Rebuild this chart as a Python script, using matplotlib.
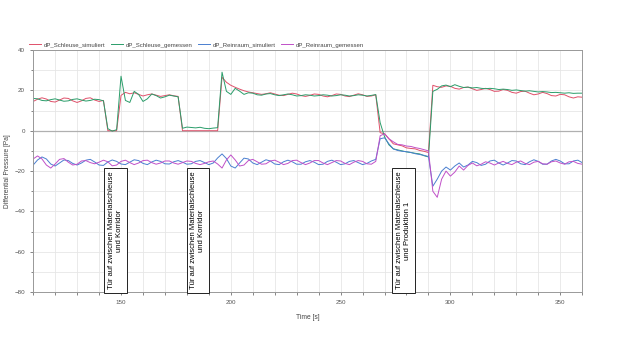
import numpy as np
import matplotlib
matplotlib.use("Agg")
import matplotlib.pyplot as plt
from matplotlib.ticker import MultipleLocator

plt.rcParams["font.family"] = ["Liberation Sans", "DejaVu Sans"]

# sample times [s], 2 s step
time_s = [
    110, 112, 114, 116, 118, 120, 122, 124, 126, 128,
    130, 132, 134, 136, 138, 140, 142, 144, 146, 148,
    150, 152, 154, 156, 158, 160, 162, 164, 166, 168,
    170, 172, 174, 176, 178, 180, 182, 184, 186, 188,
    190, 192, 194, 196, 198, 200, 202, 204, 206, 208,
    210, 212, 214, 216, 218, 220, 222, 224, 226, 228,
    230, 232, 234, 236, 238, 240, 242, 244, 246, 248,
    250, 252, 254, 256, 258, 260, 262, 264, 266, 268,
    270, 272, 274, 276, 278, 280, 282, 284, 286, 288,
    290, 292, 294, 296, 298, 300, 302, 304, 306, 308,
    310, 312, 314, 316, 318, 320, 322, 324, 326, 328,
    330, 332, 334, 336, 338, 340, 342, 344, 346, 348,
    350, 352, 354, 356, 358, 360,
]

schleuse_sim = [
    14.5, 15.6, 16.3, 15.7, 14.5, 14.2, 15.2, 16.2, 16.0, 14.8,
    14.0, 14.8, 16.0, 16.3, 15.2, 14.5, 15.0, 0.0, 0.0, 0.0,
    17.5, 19.0, 18.3, 18.8, 18.0, 17.2, 17.8, 18.2, 17.6, 17.0,
    17.4, 17.8, 17.3, 17.0, 0.0, 0.0, 0.0, 0.0, 0.0, 0.0,
    0.0, 0.0, 0.0, 26.5, 24.0, 22.5, 21.5, 20.6, 19.8, 19.2,
    18.8, 18.4, 18.0, 18.3, 18.8, 18.2, 17.6, 17.4, 18.0, 18.6,
    18.2, 17.4, 17.0, 17.5, 18.2, 18.0, 17.2, 16.8, 17.4, 18.2,
    18.0, 17.2, 16.9, 17.6, 18.3, 17.8, 17.0, 17.2, 17.8, -1.0,
    -1.5, -4.0, -6.5, -7.0, -7.5, -8.5, -8.8, -9.0, -9.8, -10.2,
    -10.8, 22.5, 21.8, 21.5, 22.2, 22.0, 21.0, 20.6, 21.4, 21.6,
    20.8, 20.0, 20.4, 21.0, 20.4, 19.5, 19.6, 20.4, 20.0, 19.0,
    18.6, 19.4, 19.6, 18.6, 17.8, 18.2, 19.0, 18.4, 17.4, 17.2,
    18.0, 17.8, 16.8, 16.2, 16.8, 16.6,
]

schleuse_mess = [
    16.0, 15.8, 15.0, 14.8, 15.4, 15.8, 15.2, 14.6, 14.8, 15.5,
    15.8, 15.2, 14.7, 15.0, 15.6, 15.4, 14.8, 1.0, -0.2, 0.5,
    27.0, 15.0, 14.0, 19.5, 18.0, 14.5, 15.8, 18.2, 17.4, 16.2,
    16.8, 17.6, 17.2, 16.8, 1.2, 1.8, 1.6, 1.4, 1.7, 1.2,
    1.0, 1.3, 1.5, 29.0, 19.5, 18.0, 21.0, 19.6, 18.0, 18.8,
    18.6, 17.8, 17.6, 18.2, 18.4, 17.8, 17.4, 17.8, 18.2, 17.8,
    17.2, 17.4, 17.8, 17.6, 17.2, 17.4, 17.8, 17.6, 17.2, 17.4,
    17.8, 17.6, 17.2, 17.4, 17.8, 17.6, 17.2, 17.5, 17.9, 4.0,
    -3.0, -7.0, -9.0, -9.5, -10.0, -10.5, -10.8, -11.2, -11.5, -12.4,
    -13.0, 19.5, 20.5, 22.2, 22.6, 21.8, 22.8, 22.0, 21.4, 21.6,
    21.2, 21.4, 21.0, 20.8, 21.0, 20.8, 20.4, 20.6, 20.4, 20.0,
    20.2, 19.9, 19.6, 19.8, 19.5, 19.2, 19.4, 19.2, 18.9, 19.0,
    18.8, 18.6, 18.8, 18.5, 18.6, 18.6,
]

reinraum_sim = [
    -17.0, -14.5, -13.0, -14.0, -16.5, -17.5, -16.0, -14.5, -14.8, -16.2,
    -17.0, -16.0, -14.6, -14.2, -15.5, -17.0, -17.2, -15.5, -14.5, -15.2,
    -16.5, -16.8, -15.6, -14.4, -14.8, -16.2, -16.8, -15.5, -14.6, -15.2,
    -16.4, -16.5, -15.4, -14.8, -15.6, -16.6, -16.4, -15.2, -14.8, -15.8,
    -16.8, -16.0, -13.5, -11.5, -13.8, -17.5, -18.5, -16.0, -13.6, -14.0,
    -16.0, -16.8, -15.6, -14.4, -15.0, -16.5, -16.8, -15.4, -14.6, -15.4,
    -16.6, -16.6, -15.4, -14.8, -15.6, -16.8, -16.6, -15.2, -14.6, -15.6,
    -16.8, -16.4, -15.2, -14.8, -15.8, -16.8, -16.2, -15.0, -14.2, -4.0,
    -3.5, -6.5, -9.0, -9.8, -10.2, -10.4, -10.8, -11.4, -11.8, -12.2,
    -12.8, -27.5, -24.0, -20.0, -18.0, -19.5, -17.5, -16.0, -18.0, -17.0,
    -15.2, -15.8, -17.2, -16.6, -15.0, -14.6, -16.0, -17.0, -16.0, -14.8,
    -15.0, -16.4, -16.8, -15.4, -14.4, -15.2, -16.6, -16.6, -15.0, -14.2,
    -15.0, -16.4, -16.4, -15.0, -14.6, -15.8,
]

reinraum_mess = [
    -14.0, -12.5, -14.0, -17.0, -18.5, -16.5, -14.2, -13.8, -15.6, -17.0,
    -16.6, -15.0, -14.8, -15.8, -16.4, -15.6, -14.6, -15.4, -17.4, -17.0,
    -15.2, -14.6, -15.8, -16.8, -16.0, -14.8, -14.6, -15.8, -16.6, -16.0,
    -15.0, -15.0, -16.0, -16.6, -15.8, -15.0, -15.2, -16.2, -16.8, -16.2,
    -15.4, -15.0, -16.5, -18.5, -14.5, -12.0, -14.5, -17.5, -17.0, -14.8,
    -14.2, -15.4, -16.6, -16.4, -15.0, -14.6, -15.6, -16.8, -16.2, -14.8,
    -14.6, -15.8, -16.8, -16.0, -14.8, -14.8, -16.0, -16.8, -15.8, -14.8,
    -15.0, -16.2, -16.8, -15.6, -14.8, -15.2, -16.4, -16.6, -15.2, -2.5,
    -1.5, -4.0, -5.5, -6.8, -7.0, -7.6, -7.8, -8.4, -8.8, -9.4,
    -10.0, -30.0, -33.0, -24.0, -20.0, -22.5, -20.5, -17.5, -19.5, -17.2,
    -16.0, -17.4, -16.6, -15.4, -16.0, -17.0, -16.0, -15.2, -16.2, -16.8,
    -15.6, -15.0, -16.2, -16.8, -15.6, -15.2, -16.4, -16.6, -15.4, -15.0,
    -16.0, -16.6, -15.4, -15.2, -16.2, -16.6,
]

series_names = [
    "dP_Schleuse_simuliert",
    "dP_Schleuse_gemessen",
    "dP_Reinraum_simuliert",
    "dP_Reinraum_gemessen",
]
series_colors = ["#e0506a", "#2a9d6a", "#4a7fd0", "#c050c8"]

door_times = [147.4, 185.0, 278.6]
door_texts = [
    "Tür auf zwischen Materialschleuse\nund Korridor",
    "Tür auf zwischen Materialschleuse\nund Korridor",
    "Tür auf zwischen Materialschleuse\nund Produktion 1",
]

fig = plt.figure(figsize=(6.26, 3.52), dpi=100)
ax = fig.add_axes([0.053, 0.170, 0.877, 0.688])

for vals, name, col in zip(
    [schleuse_sim, schleuse_mess, reinraum_sim, reinraum_mess],
    series_names,
    series_colors,
):
    ax.plot(time_s, vals, color=col, lw=0.7, label=name)

ax.set_xlim(110, 360)
ax.set_ylim(-80, 40)
ax.xaxis.set_major_locator(MultipleLocator(50))
ax.xaxis.set_minor_locator(MultipleLocator(10))
ax.yaxis.set_major_locator(MultipleLocator(20))
ax.yaxis.set_minor_locator(MultipleLocator(10))
ax.grid(which="both", color="#e6e6e6", lw=0.6)
ax.set_axisbelow(True)
ax.axhline(0, color="#b0b0b0", lw=0.9, zorder=1)

for sp in ax.spines.values():
    sp.set_color("#999999")
    sp.set_linewidth(0.7)
ax.tick_params(which="both", labelsize=4.5, colors="#555555", length=2.5, width=0.5)
ax.tick_params(which="minor", length=1.8)

ax.set_xlabel("Time [s]", fontsize=4.8, color="#444444", labelpad=6)
ax.set_ylabel("Differential Pressure [Pa]", fontsize=4.8, color="#444444")
ax.yaxis.set_label_coords(-0.04, 0.5)

for t, txt in zip(door_times, door_texts):
    ax.text(t, -49.5, txt, rotation=90, ha="center", va="center", fontsize=5.5,
            multialignment="center", clip_on=False, zorder=5,
            bbox=dict(boxstyle="square,pad=0.5", fc="white", ec="#222222", lw=0.7))

leg = ax.legend(loc="lower left", bbox_to_anchor=(-0.01, 1.005), ncol=4,
                frameon=False, fontsize=4.3, handlelength=2.0, handletextpad=0.5,
                columnspacing=0.9, borderaxespad=0.0, borderpad=0.2)
for txt in leg.get_texts():
    txt.set_color("#444444")

fig.savefig("out.png", dpi=100)
